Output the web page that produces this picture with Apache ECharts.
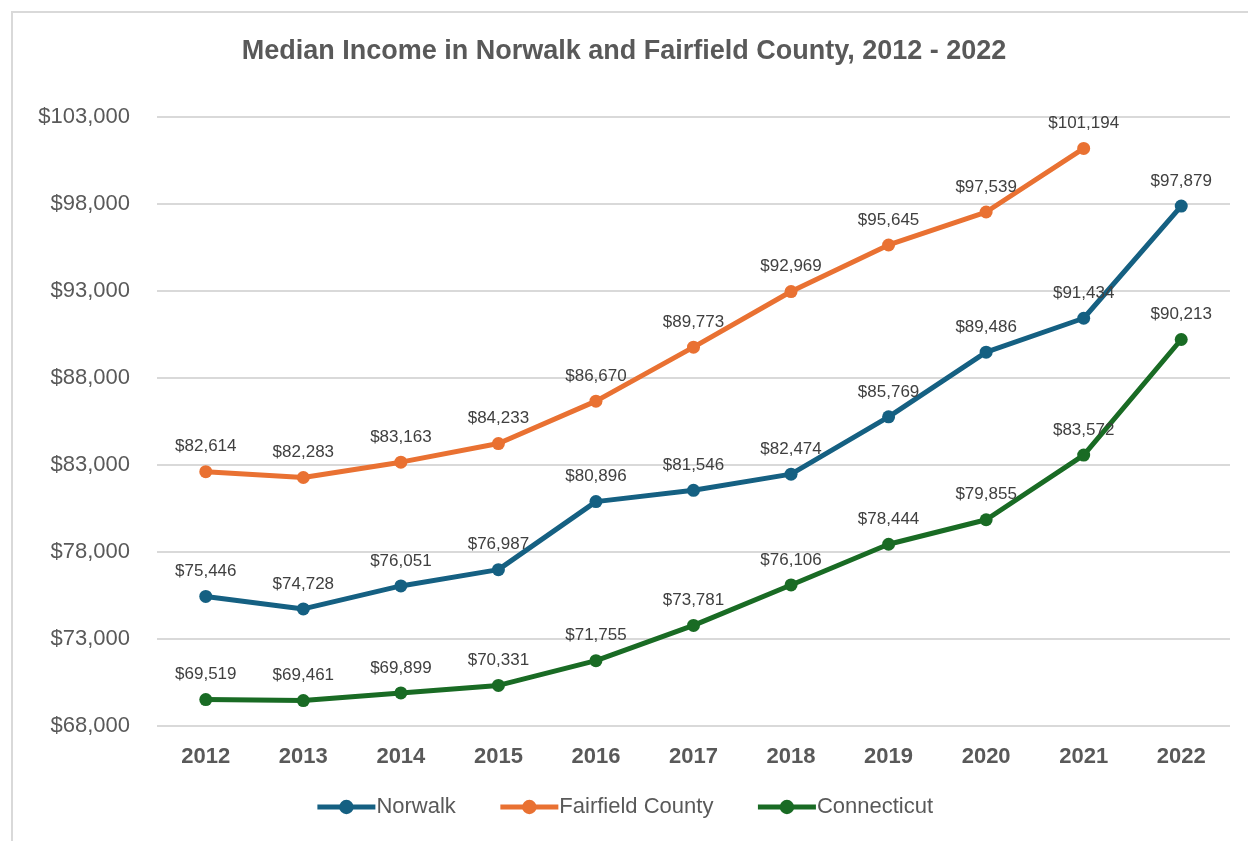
<!DOCTYPE html>
<html>
<head>
<meta charset="utf-8">
<script src="https://cdn.jsdelivr.net/npm/echarts@6/dist/echarts.min.js"></script>
<style>
    html, body { margin: 0; padding: 0; background: #fff; }
    #frame { position: absolute; left: 11px; top: 11px; width: 1260px; height: 860px; border-left: 2px solid #d9d9d9; border-top: 2px solid #d9d9d9; }
    #main { position: absolute; left: 0; top: 0; width: 1248px; height: 841px; }
</style>
</head>
<body>
<div id="frame"></div>
<div id="main"></div>
<script>
// data
var years = ['2012', '2013', '2014', '2015', '2016', '2017', '2018', '2019', '2020', '2021', '2022'];
var norwalk = [75446, 74728, 76051, 76987, 80896, 81546, 82474, 85769, 89486, 91434, 97879];
var fairfield = [82614, 82283, 83163, 84233, 86670, 89773, 92969, 95645, 97539, 101194, null];
var connecticut = [69519, 69461, 69899, 70331, 71755, 73781, 76106, 78444, 79855, 83572, 90213];

function money(v) {
    return '$' + Number(v).toLocaleString('en-US');
}

function lineSeries(name, data, color) {
    return {
        name: name,
        type: 'line',
        data: data,
        symbol: 'circle',
        symbolSize: 13,
        lineStyle: { width: 5, color: color },
        itemStyle: { color: color },
        label: {
            show: true,
            position: 'top',
            distance: 10,
            color: '#404040',
            fontSize: 17,
            fontFamily: 'Liberation Sans',
            formatter: function (p) { return money(p.value); }
        },
        emphasis: { disabled: true }
    };
}

var myChart = echarts.init(document.getElementById('main'));
var option = {
    animation: false,
    title: {
        text: 'Median Income in Norwalk and Fairfield County, 2012 - 2022',
        left: 'center',
        top: 33,
        textStyle: { color: '#595959', fontSize: 27, fontWeight: 'bold', fontFamily: 'Liberation Sans' }
    },
    legend: {
        bottom: 18,
        left: 'center',
        itemWidth: 58,
        itemHeight: 18,
        itemGap: 42,
        lineStyle: { width: 5 },
        textStyle: { color: '#595959', fontSize: 22, fontFamily: 'Liberation Sans', padding: [0, 0, 0, -4] },
        data: ['Norwalk', 'Fairfield County', 'Connecticut']
    },
    grid: { left: 157, right: 18, top: 117, bottom: 115 },
    xAxis: {
        type: 'category',
        data: years,
        axisLine: { show: false },
        axisTick: { show: false },
        axisLabel: { color: '#595959', fontSize: 22, fontWeight: 'bold', fontFamily: 'Liberation Sans', margin: 20 }
    },
    yAxis: {
        type: 'value',
        min: 68000,
        max: 103000,
        interval: 5000,
        axisLabel: { color: '#595959', fontSize: 22, fontFamily: 'Liberation Sans', margin: 27, formatter: money },
        splitLine: { lineStyle: { color: '#d9d9d9', width: 2 } }
    },
    series: [
        lineSeries('Norwalk', norwalk, '#156082'),
        lineSeries('Fairfield County', fairfield, '#E97132'),
        lineSeries('Connecticut', connecticut, '#196B24')
    ]
};
myChart.setOption(option);
</script>
</body>
</html>
